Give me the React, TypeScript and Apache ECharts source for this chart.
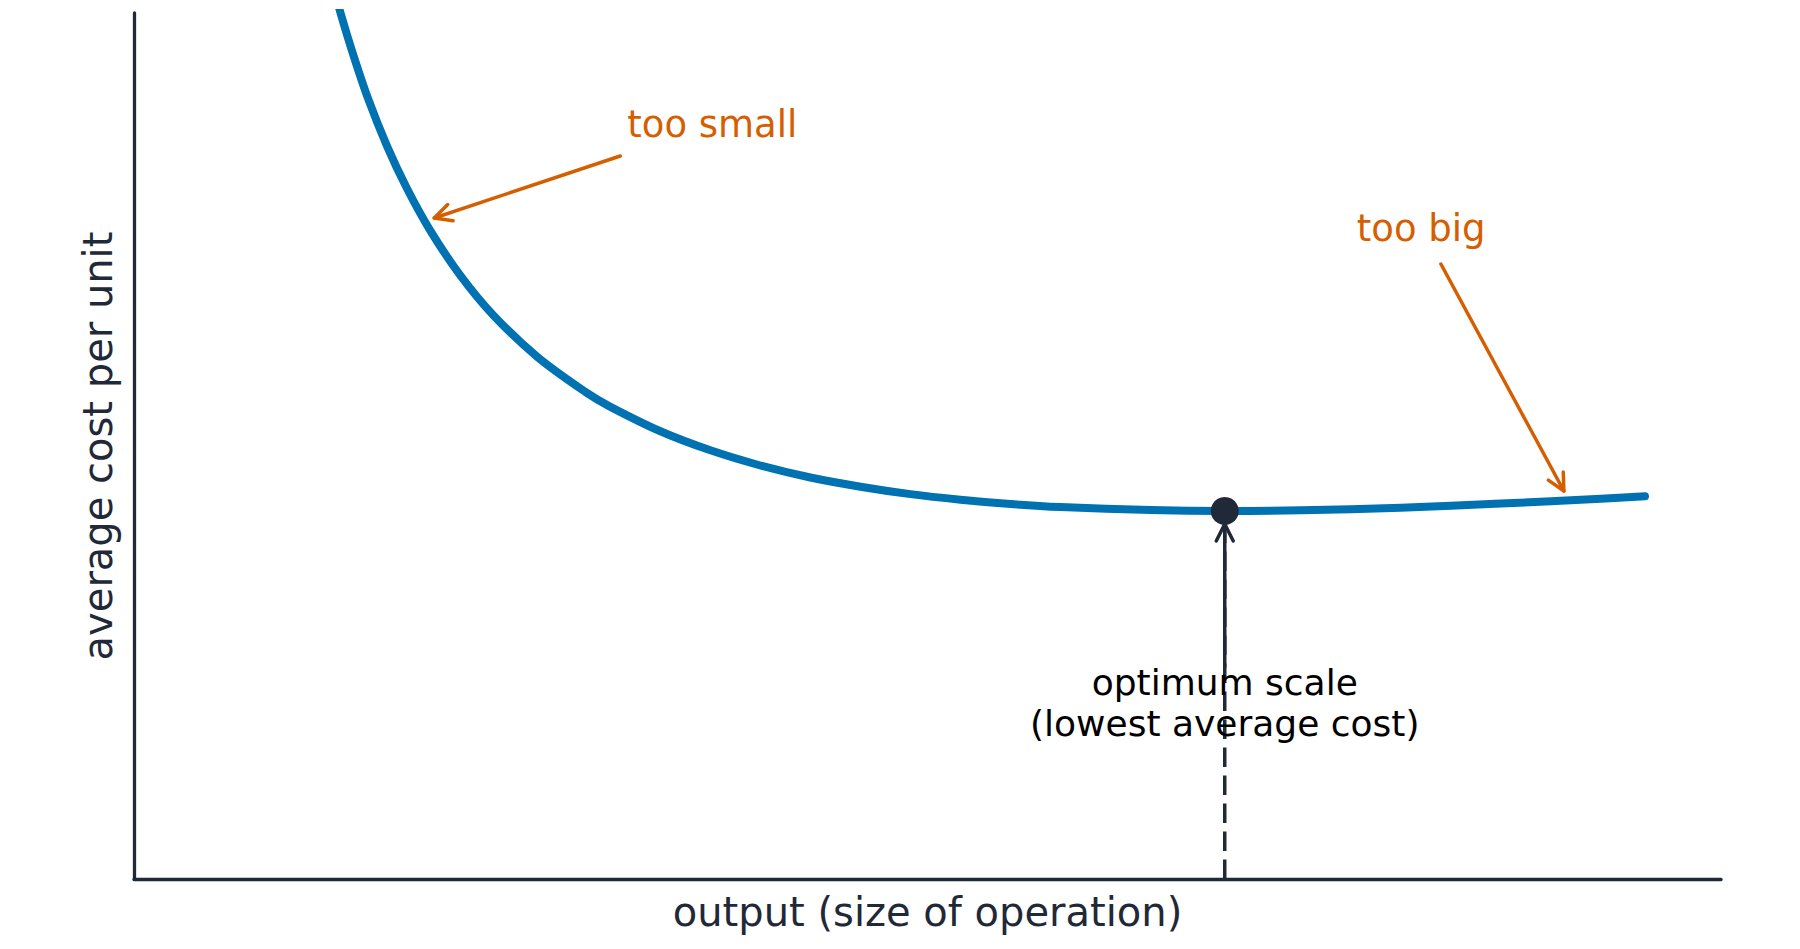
import { useEffect, useRef } from "react";
import * as echarts from "echarts";

// Average cost curve (x: output, y: average cost per unit)
const curveX = [1.261, 1.303, 1.381, 1.475, 1.595, 1.721, 1.866, 2.056, 2.264, 2.541, 2.856, 2.999, 3.317, 3.632, 3.947, 4.262, 4.578, 4.893, 5.208, 5.523, 5.839, 6.406, 6.873, 7.352, 7.982, 8.613, 9.243, 9.521];
const curveY = [10.27, 9.99, 9.52, 9.01, 8.46, 7.97, 7.49, 6.97, 6.51, 6.03, 5.61, 5.455, 5.17, 4.95, 4.775, 4.636, 4.53, 4.444, 4.38, 4.33, 4.295, 4.26, 4.25, 4.257, 4.288, 4.335, 4.39, 4.42];

// Optimum point
const optimumX = 6.873;
const optimumY = 4.25;

// Annotations (data coordinates)
const annTexts = ["too small", "too big"];
const annTextX = [3.108, 7.705];
const annTextY = [8.707, 7.506];
const annTailX = [3.064, 8.235];
const annTailY = [8.349, 7.102];
const annTipX = [1.892, 9.01];
const annTipY = [7.633, 4.48];

const optimumLabel = "optimum scale\n(lowest average cost)";
const optimumLabelY = 2.032;
const optimumArrowTailY = 2.448;
const optimumArrowTipY = 4.099;

const xName = "output (size of operation)";
const yName = "average cost per unit";

const DARK = "#1f2937";
const BLUE = "#0072B2";
const ORANGE = "#D55E00";
const FONT = '"DejaVu Sans", "Liberation Sans", sans-serif';

export default function App() {
  const ref = useRef<HTMLDivElement>(null);

  useEffect(() => {
    if (!ref.current) return;
    const chart = echarts.init(ref.current, undefined, { renderer: "svg" });

    const option: any = {
      animation: false,
      backgroundColor: "#ffffff",
      grid: { left: 134, top: 13, width: 1587, height: 866, containLabel: false },
      xAxis: {
        type: "value",
        min: 0,
        max: 10,
        axisLine: { show: true, onZero: false, lineStyle: { color: DARK, width: 3.3 } },
        axisTick: { show: false },
        axisLabel: { show: false },
        splitLine: { show: false },
        name: xName,
        nameLocation: "middle",
        nameGap: 13,
        nameTextStyle: { fontSize: 40, color: DARK, fontFamily: FONT },
      },
      yAxis: {
        type: "value",
        min: 0,
        max: 10,
        axisLine: { show: true, onZero: false, lineStyle: { color: DARK, width: 3.3 } },
        axisTick: { show: false },
        axisLabel: { show: false },
        splitLine: { show: false },
        name: yName,
        nameLocation: "middle",
        nameGap: 16,
        nameTextStyle: { fontSize: 40, color: DARK, fontFamily: FONT },
      },
      series: [
        {
          type: "line",
          data: [[optimumX, 0], [optimumX, optimumY]],
          symbol: "none",
          lineStyle: { color: DARK, width: 3.5, type: [19.5, 8.5] },
          z: 2,
          silent: true,
        },
        {
          type: "line",
          data: curveX.map((x, i) => [x, curveY[i]]),
          symbol: "none",
          smooth: 0.33,
          clip: true,
          lineStyle: { color: BLUE, width: 8, cap: "round", join: "round" },
          z: 3,
          silent: true,
        },
        {
          type: "scatter",
          data: [[optimumX, optimumY]],
          symbol: "circle",
          symbolSize: 28,
          itemStyle: { color: DARK, opacity: 1 },
          z: 5,
          silent: true,
        },
      ],
    };
    chart.setOption(option);

    const px = (x: number, y: number) => chart.convertToPixel({ gridIndex: 0 }, [x, y]) as number[];

    const arrow = (tail: number[], tip: number[], color: string) => {
      const dx = tail[0] - tip[0];
      const dy = tail[1] - tip[1];
      const L = Math.hypot(dx, dy) || 1;
      const ux = dx / L;
      const uy = dy / L;
      const len = 17;
      const hw = 8.5;
      const p1 = [tip[0] + ux * len - uy * hw, tip[1] + uy * len + ux * hw];
      const p2 = [tip[0] + ux * len + uy * hw, tip[1] + uy * len - ux * hw];
      const style = { stroke: color, lineWidth: 3.5, lineCap: "round", lineJoin: "round", fill: null };
      return [
        { type: "line", shape: { x1: tail[0], y1: tail[1], x2: tip[0], y2: tip[1] }, style, z: 10 },
        { type: "polyline", shape: { points: [p1, tip, p2] }, style, z: 10 },
      ];
    };

    const graphics: any[] = [];
    annTexts.forEach((t, i) => {
      const tp = px(annTextX[i], annTextY[i]);
      graphics.push({
        type: "text",
        x: tp[0],
        y: tp[1],
        z: 10,
        style: { text: t, fill: ORANGE, fontSize: 37, fontFamily: FONT, align: "left", verticalAlign: "middle" },
      });
      graphics.push(...arrow(px(annTailX[i], annTailY[i]), px(annTipX[i], annTipY[i]), ORANGE));
    });
    const op = px(optimumX, optimumLabelY);
    graphics.push({
      type: "text",
      x: op[0],
      y: op[1],
      z: 10,
      style: {
        text: optimumLabel,
        fill: "#000000",
        fontSize: 36,
        lineHeight: 41,
        fontFamily: FONT,
        align: "center",
        verticalAlign: "middle",
      },
    });
    graphics.push(...arrow(px(optimumX, optimumArrowTailY), px(optimumX, optimumArrowTipY), DARK));

    chart.setOption({ graphic: graphics });

    return () => chart.dispose();
  }, []);

  return (
    <div
      ref={ref}
      style={{ position: "absolute", left: 0, top: 0, width: 1800, height: 949 }}
    />
  );
}
